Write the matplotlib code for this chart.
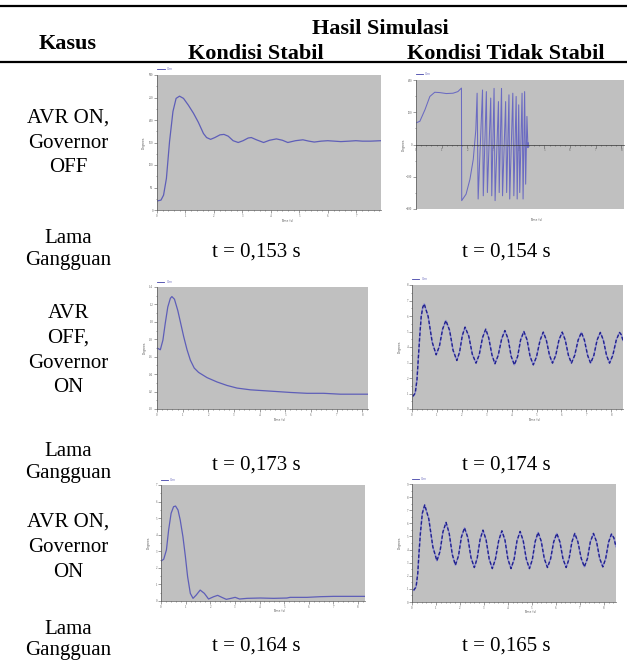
import matplotlib.pyplot as plt
from matplotlib.lines import Line2D
from matplotlib.ticker import MultipleLocator, AutoMinorLocator

plt.rcParams['font.family'] = ['Liberation Serif', 'DejaVu Serif']

# table text
header_top = "Hasil Simulasi"
header_case = "Kasus"
col_titles = ["Kondisi Stabil", "Kondisi Tidak Stabil"]
case_labels = [["AVR ON,", "Governor", "OFF"],
               ["AVR", "OFF,", "Governor", "ON"],
               ["AVR ON,", "Governor", "ON"]]
duration_label = ["Lama", "Gangguan"]
stable_times = ["t = 0,153 s", "t = 0,173 s", "t = 0,164 s"]
unstable_times = ["t = 0,154 s", "t = 0,174 s", "t = 0,165 s"]

# rotor angle traces (time in s, angle in plot units)
# AVR ON, Governor OFF - stable
t1 = [0, 0.14, 0.23, 0.33, 0.44, 0.56, 0.67, 0.79, 0.93, 1.10, 1.28, 1.45, 1.63, 1.74, 1.88,
      2.03, 2.21, 2.35, 2.50, 2.67, 2.85, 3.02, 3.20, 3.31, 3.49, 3.74, 3.95, 4.19, 4.40, 4.59,
      4.86, 5.12, 5.33, 5.52, 5.76, 5.99, 6.22, 6.45, 6.74, 6.98, 7.21, 7.50, 7.86]
d1 = [20, 22, 33, 70, 152, 219, 248, 253, 248, 233, 215, 195, 170, 161, 157,
      161, 167, 168, 164, 154, 150, 154, 160, 161, 156, 150, 155, 158, 155, 150,
      154, 156, 153, 151, 153, 154, 153, 152, 153, 154, 153, 153, 154]

# AVR ON, Governor OFF - unstable (pole slipping)
t2 = [0, 0.15, 0.35, 0.54, 0.73, 0.92, 1.18, 1.44, 1.63, 1.77, 1.78, 1.95, 2.10, 2.23, 2.33,
      2.38, 2.42, 2.59, 2.62, 2.74, 2.78, 2.91, 2.95, 3.04, 3.08, 3.21, 3.24, 3.33, 3.37, 3.49,
      3.53, 3.62, 3.65, 3.77, 3.81, 3.90, 3.94, 4.00, 4.04, 4.13, 4.17, 4.23, 4.27, 4.32, 4.36, 4.37]
d2 = [67, 72, 108, 149, 162, 161, 158, 159, 164, 175, -174, -154, -108, -46, 46,
      159, -169, 169, -159, 164, -149, 144, -159, 174, -174, 133, -149, 174, -159, 133,
      -149, 154, -169, 159, -159, 149, -169, 123, -149, 159, -169, 164, -123, 87, -10, 5]

# AVR OFF, Governor ON - stable
t3 = [0, 0.13, 0.23, 0.32, 0.42, 0.52, 0.58, 0.68, 0.81, 0.91, 1.04, 1.17, 1.30, 1.45,
      1.62, 1.95, 2.34, 2.73, 3.12, 3.64, 4.16, 4.68, 5.19, 5.84, 6.49, 7.14, 7.79, 8.22]
d3 = [0.70, 0.68, 0.79, 0.98, 1.17, 1.27, 1.29, 1.26, 1.13, 1.00, 0.83, 0.68, 0.56, 0.47,
      0.42, 0.36, 0.31, 0.27, 0.24, 0.22, 0.21, 0.20, 0.19, 0.18, 0.18, 0.17, 0.17, 0.17]

# AVR OFF, Governor ON - unstable (sustained swing)
t4 = [0.04, 0.13, 0.20, 0.25, 0.31, 0.37, 0.43, 0.49, 0.65, 0.81, 0.97, 1.10, 1.23, 1.36,
      1.51, 1.65, 1.80, 1.91, 2.02, 2.13, 2.28, 2.42, 2.57, 2.70, 2.83, 2.96, 3.08, 3.21,
      3.33, 3.46, 3.60, 3.73, 3.86, 3.98, 4.11, 4.24, 4.36, 4.49, 4.62, 4.74, 4.87, 5.00,
      5.14, 5.27, 5.39, 5.52, 5.64, 5.77, 5.90, 6.03, 6.15, 6.28, 6.40, 6.53, 6.67, 6.80,
      6.92, 7.05, 7.17, 7.30, 7.43, 7.56, 7.68, 7.81, 7.93, 8.06, 8.20, 8.33, 8.40, 8.47]
d4 = [0.82, 1.03, 1.89, 3.18, 4.68, 5.97, 6.55, 6.78, 5.96, 4.32, 3.50, 4.05, 5.16, 5.71,
      5.07, 3.78, 3.13, 3.67, 4.74, 5.28, 4.70, 3.54, 2.96, 3.51, 4.60, 5.15, 4.59, 3.48,
      2.92, 3.46, 4.53, 5.06, 4.51, 3.40, 2.85, 3.39, 4.46, 5.00, 4.46, 3.39, 2.85, 3.38,
      4.43, 4.96, 4.46, 3.46, 2.96, 3.46, 4.46, 4.96, 4.46, 3.46, 2.96, 3.46, 4.45, 4.94,
      4.45, 3.46, 2.96, 3.46, 4.45, 4.94, 4.45, 3.46, 2.96, 3.46, 4.45, 4.94, 4.80, 4.42]

# AVR ON, Governor ON - stable
t5 = [0, 0.11, 0.22, 0.31, 0.41, 0.51, 0.59, 0.69, 0.78, 0.89, 0.99, 1.08, 1.19, 1.30,
      1.43, 1.59, 1.76, 1.93, 2.14, 2.30, 2.47, 2.65, 2.84, 3.01, 3.19, 3.49, 4.03, 4.57,
      5.11, 5.24, 5.92, 6.46, 7.00, 8.28]
d5 = [2.41, 2.52, 3.08, 4.29, 5.29, 5.69, 5.73, 5.49, 4.89, 3.88, 2.68, 1.47, 0.46, 0.16,
      0.36, 0.66, 0.46, 0.12, 0.26, 0.34, 0.22, 0.10, 0.16, 0.22, 0.12, 0.16, 0.18, 0.16,
      0.18, 0.22, 0.22, 0.26, 0.28, 0.28]

# AVR ON, Governor ON - unstable
t6 = [0.07, 0.17, 0.24, 0.29, 0.35, 0.43, 0.53, 0.70, 0.87, 1.04, 1.17, 1.29, 1.42, 1.55,
      1.68, 1.81, 1.94, 2.06, 2.19, 2.33, 2.46, 2.60, 2.72, 2.84, 2.96, 3.09, 3.22, 3.35,
      3.48, 3.62, 3.75, 3.88, 4.00, 4.13, 4.26, 4.38, 4.51, 4.64, 4.77, 4.90, 5.02, 5.14,
      5.26, 5.39, 5.52, 5.65, 5.78, 5.91, 6.04, 6.17, 6.30, 6.43, 6.55, 6.67, 6.79, 6.92,
      7.06, 7.19, 7.32, 7.44, 7.57, 7.70, 7.83, 7.96, 8.08, 8.20, 8.32, 8.42, 8.51]
d6 = [0.89, 1.15, 2.17, 3.70, 5.23, 6.76, 7.40, 6.34, 4.20, 3.14, 3.87, 5.34, 6.07, 5.26,
      3.63, 2.81, 3.52, 4.95, 5.66, 4.90, 3.39, 2.63, 3.34, 4.77, 5.48, 4.75, 3.28, 2.55,
      3.27, 4.71, 5.43, 4.71, 3.27, 2.55, 3.26, 4.67, 5.38, 4.67, 3.26, 2.55, 3.24, 4.62,
      5.31, 4.64, 3.30, 2.63, 3.28, 4.58, 5.23, 4.58, 3.28, 2.63, 3.28, 4.58, 5.23, 4.59,
      3.32, 2.68, 3.32, 4.59, 5.23, 4.59, 3.32, 2.68, 3.31, 4.56, 5.18, 4.90, 4.21]

W, H = 627, 661
fig = plt.figure(figsize=(W / 100, H / 100), dpi=100)


def box(l, t, r, b):
    # pixel box -> figure fraction rect
    return [l / W, 1 - b / H, (r - l) / W, (b - t) / H]


def put(x, y, s, **kw):
    # text placed by its baseline, in pixels from the top-left corner
    fig.text(x / W, 1 - y / H, s, ha='center', va='baseline', **kw)


def sim_plot(rect, t, d, xmax, ylim, ystep, zero_axis=False, dashed=False):
    ax = fig.add_axes(rect)
    ax.set_facecolor('#c0c0c0')
    if dashed:
        ax.plot(t, d, color='#8c8cd2', lw=1.0)
        ax.plot(t, d, color='#22228c', lw=1.0, dashes=(2.5, 1.5))
    elif zero_axis:
        ax.plot(t, d, color='#6a6ac2', lw=0.75)
    else:
        ax.plot(t, d, color='#5e5eb8', lw=0.9)
    ax.set_xlim(0, xmax)
    ax.set_ylim(*ylim)
    ax.xaxis.set_major_locator(MultipleLocator(1))
    ax.xaxis.set_minor_locator(AutoMinorLocator(5))
    ax.yaxis.set_major_locator(MultipleLocator(ystep))
    ax.yaxis.set_minor_locator(AutoMinorLocator(2))
    for s in ('top', 'right'):
        ax.spines[s].set_visible(False)
    for s in ('left', 'bottom'):
        ax.spines[s].set_color('#555555')
        ax.spines[s].set_linewidth(0.5)
    if zero_axis:
        ax.spines['bottom'].set_position(('data', 0))
        ax.spines['bottom'].set_color('#333333')
    ax.tick_params(which='both', direction='out', colors='#555555', labelsize=2.2,
                   width=0.4, pad=0.8)
    ax.tick_params(which='major', length=2)
    ax.tick_params(which='minor', length=1)
    ax.text(0.58, -0.07, 'Time (s)', transform=ax.transAxes, fontsize=2.2,
            color='#555555', ha='center', va='top', family='DejaVu Sans')
    ax.text(-0.06, 0.5, 'Degrees', transform=ax.transAxes, fontsize=2.2, rotation=90,
            color='#555555', ha='center', va='center', family='DejaVu Sans')
    ax.plot([0.0, 0.035], [1.045, 1.045], transform=ax.transAxes, color='#4040a8',
            lw=0.6, clip_on=False)
    ax.text(0.045, 1.045, 'Gen', transform=ax.transAxes, fontsize=2.2, color='#7070c0',
            va='center', family='DejaVu Sans')
    return ax


sim_plot(box(157, 75, 381, 210), t1, d1, 7.86, (0, 300), 50)
sim_plot(box(416, 80, 624, 209), t2, d2, 8.1, (-200, 200), 100, zero_axis=True)
sim_plot(box(157, 287, 368, 409), t3, d3, 8.22, (0, 1.4), 0.2)
sim_plot(box(412, 285, 623, 409), t4, d4, 8.47, (0, 8), 1, dashed=True)
sim_plot(box(161, 485, 365, 601), t5, d5, 8.28, (0, 7), 1)
sim_plot(box(412, 484, 616, 602), t6, d6, 8.51, (0, 9), 1, dashed=True)

# table rules
for yy in (6, 62):
    fig.add_artist(Line2D([0, 1], [1 - yy / H, 1 - yy / H], color='black', lw=1.6,
                          transform=fig.transFigure))

# header
put(380, 34, header_top, fontsize=16, fontweight='bold')
put(68, 49, header_case, fontsize=16, fontweight='bold')
put(256, 59, col_titles[0], fontsize=16, fontweight='bold')
put(506, 59, col_titles[1], fontsize=16, fontweight='bold')

# rows: baselines of each text line, in pixels
case_base = [[123, 148, 172], [318, 343, 368, 392], [527, 552, 577]]
dur_base = [[243, 265], [456, 478], [634, 655]]
time_base = [257, 470, 651]
for i in range(3):
    for s, yy in zip(case_labels[i], case_base[i]):
        put(68, yy, s, fontsize=15)
    for s, yy in zip(duration_label, dur_base[i]):
        put(68, yy, s, fontsize=15)
    put(256, time_base[i], stable_times[i], fontsize=15)
    put(506, time_base[i], unstable_times[i], fontsize=15)

fig.savefig('out.png', dpi=100)
